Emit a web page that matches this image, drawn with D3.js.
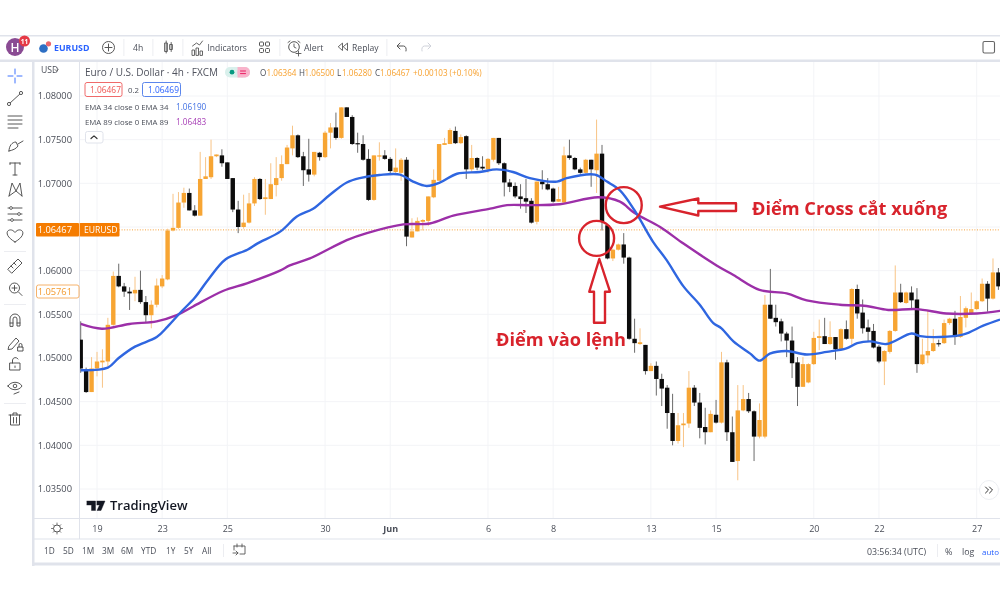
<!DOCTYPE html>
<html><head><meta charset="utf-8">
<script src="https://cdnjs.cloudflare.com/ajax/libs/d3/7.8.5/d3.min.js"></script>
<style>html,body{margin:0;padding:0;background:#fff;overflow:hidden}svg{display:block;filter:blur(.45px)}text{font-family:"Open Sans","Noto Sans",sans-serif}</style>
</head><body><svg id="c" width="1000" height="600"></svg>
<script>
const opens=[1.0521,1.0487,1.0461,1.0488,1.0495,1.0496,1.0538,1.0594,1.0582,1.0576,
1.0574,1.0578,1.0564,1.0549,1.0561,1.0582,1.0590,1.0646,1.0649,1.0678,
1.0689,1.0669,1.0663,1.0705,1.0707,1.0731,1.0732,1.0724,1.0706,1.0670,
1.0650,1.0655,1.0677,1.0705,1.0682,1.0682,1.0698,1.0706,1.0722,1.0740,
1.0755,1.0731,1.0716,1.0710,1.0735,1.0730,1.0758,1.0764,1.0752,1.0787,
1.0776,1.0746,1.0745,1.0728,1.0681,1.0731,1.0732,1.0728,1.0713,1.0712,
1.0727,1.0638,1.0645,1.0656,1.0657,1.0684,1.0703,1.0744,1.0745,1.0760,
1.0746,1.0754,1.0716,1.0729,1.0719,1.0716,1.0727,1.0752,1.0723,1.0701,
1.0697,1.0685,1.0683,1.0680,1.0656,1.0702,1.0699,1.0694,1.0679,1.0678,
1.0732,1.0729,1.0716,1.0712,1.0727,1.0715,1.0734,1.0652,1.0614,1.0624,
1.0630,1.0615,1.0522,1.0516,1.0515,1.0485,1.0491,1.0476,1.0466,1.0437,
1.0405,1.0423,1.0425,1.0466,1.0449,1.0421,1.0415,1.0435,1.0426,1.0495,
1.0415,1.0382,1.0440,1.0453,1.0439,1.0410,1.0410,1.0561,1.0546,1.0542,
1.0528,1.0520,1.0495,1.0467,1.0472,1.0493,1.0523,1.0525,1.0516,1.0524,
1.0510,1.0533,1.0522,1.0579,1.0552,1.0535,1.0531,1.0513,1.0496,1.0507,
1.0531,1.0575,1.0563,1.0575,1.0567,1.0493,1.0503,1.0508,1.0517,1.0517,
1.0540,1.0545,1.0524,1.0546,1.0551,1.0556,1.0565,1.0585,1.0568,1.0598];
const highs=[1.0542,1.0489,1.0501,1.0507,1.0510,1.0546,1.0599,1.0608,1.0586,1.0581,
1.0593,1.0600,1.0571,1.0566,1.0591,1.0595,1.0648,1.0688,1.0690,1.0695,
1.0694,1.0675,1.0736,1.0730,1.0750,1.0733,1.0739,1.0724,1.0706,1.0680,
1.0687,1.0689,1.0707,1.0706,1.0705,1.0723,1.0730,1.0732,1.0744,1.0766,
1.0756,1.0736,1.0751,1.0736,1.0736,1.0760,1.0769,1.0781,1.0787,1.0787,
1.0778,1.0758,1.0755,1.0739,1.0732,1.0747,1.0738,1.0730,1.0740,1.0729,
1.0730,1.0660,1.0661,1.0659,1.0685,1.0716,1.0745,1.0752,1.0763,1.0765,
1.0756,1.0755,1.0744,1.0730,1.0731,1.0729,1.0752,1.0752,1.0724,1.0705,
1.0701,1.0699,1.0705,1.0683,1.0702,1.0715,1.0706,1.0695,1.0696,1.0742,
1.0750,1.0730,1.0718,1.0728,1.0727,1.0773,1.0744,1.0652,1.0625,1.0631,
1.0643,1.0616,1.0545,1.0534,1.0515,1.0494,1.0496,1.0482,1.0469,1.0459,
1.0437,1.0437,1.0485,1.0469,1.0460,1.0443,1.0440,1.0452,1.0507,1.0498,
1.0433,1.0469,1.0469,1.0460,1.0440,1.0448,1.0572,1.0602,1.0561,1.0545,
1.0530,1.0536,1.0501,1.0501,1.0494,1.0530,1.0544,1.0546,1.0542,1.0524,
1.0534,1.0543,1.0580,1.0584,1.0567,1.0544,1.0539,1.0515,1.0509,1.0532,
1.0606,1.0585,1.0576,1.0582,1.0580,1.0522,1.0554,1.0533,1.0521,1.0544,
1.0546,1.0554,1.0571,1.0559,1.0575,1.0566,1.0591,1.0588,1.0614,1.0603];
const lows=[1.0483,1.0460,1.0461,1.0479,1.0466,1.0490,1.0537,1.0581,1.0570,1.0555,
1.0565,1.0562,1.0540,1.0534,1.0558,1.0580,1.0589,1.0645,1.0648,1.0672,
1.0669,1.0662,1.0663,1.0705,1.0705,1.0730,1.0719,1.0705,1.0667,1.0643,
1.0648,1.0654,1.0674,1.0681,1.0664,1.0682,1.0685,1.0703,1.0722,1.0732,
1.0729,1.0697,1.0702,1.0708,1.0726,1.0729,1.0740,1.0750,1.0751,1.0776,
1.0744,1.0735,1.0726,1.0680,1.0680,1.0726,1.0727,1.0710,1.0710,1.0703,
1.0628,1.0638,1.0645,1.0646,1.0651,1.0683,1.0703,1.0744,1.0745,1.0745,
1.0745,1.0705,1.0713,1.0715,1.0715,1.0712,1.0725,1.0721,1.0685,1.0690,
1.0683,1.0671,1.0666,1.0654,1.0653,1.0693,1.0692,1.0678,1.0679,1.0677,
1.0727,1.0715,1.0711,1.0711,1.0696,1.0689,1.0646,1.0613,1.0611,1.0623,
1.0608,1.0521,1.0506,1.0515,1.0481,1.0485,1.0457,1.0445,1.0419,1.0400,
1.0402,1.0398,1.0420,1.0445,1.0408,1.0401,1.0415,1.0425,1.0425,1.0405,
1.0381,1.0360,1.0439,1.0437,1.0382,1.0408,1.0408,1.0545,1.0536,1.0519,
1.0501,1.0477,1.0445,1.0467,1.0471,1.0492,1.0509,1.0516,1.0515,1.0498,
1.0509,1.0521,1.0515,1.0545,1.0528,1.0519,1.0511,1.0494,1.0469,1.0505,
1.0530,1.0563,1.0562,1.0556,1.0483,1.0492,1.0494,1.0507,1.0513,1.0516,
1.0538,1.0515,1.0523,1.0535,1.0550,1.0555,1.0564,1.0553,1.0567,1.0578];
const closes=[1.0488,1.0461,1.0488,1.0496,1.0497,1.0538,1.0594,1.0582,1.0576,1.0574,
1.0578,1.0564,1.0549,1.0561,1.0583,1.0591,1.0646,1.0649,1.0678,1.0689,
1.0669,1.0663,1.0705,1.0708,1.0731,1.0733,1.0723,1.0705,1.0670,1.0650,
1.0655,1.0677,1.0705,1.0682,1.0684,1.0699,1.0706,1.0722,1.0741,1.0755,
1.0730,1.0715,1.0710,1.0736,1.0730,1.0758,1.0764,1.0752,1.0787,1.0776,
1.0745,1.0745,1.0727,1.0681,1.0732,1.0732,1.0728,1.0714,1.0718,1.0727,
1.0639,1.0645,1.0657,1.0658,1.0685,1.0704,1.0745,1.0746,1.0761,1.0746,
1.0753,1.0716,1.0729,1.0718,1.0717,1.0728,1.0752,1.0723,1.0701,1.0696,
1.0685,1.0682,1.0679,1.0655,1.0702,1.0699,1.0693,1.0679,1.0682,1.0732,
1.0729,1.0716,1.0712,1.0727,1.0716,1.0734,1.0656,1.0614,1.0624,1.0630,
1.0615,1.0522,1.0517,1.0518,1.0485,1.0491,1.0476,1.0465,1.0437,1.0405,
1.0423,1.0425,1.0466,1.0449,1.0420,1.0415,1.0436,1.0426,1.0495,1.0415,
1.0381,1.0440,1.0453,1.0439,1.0410,1.0429,1.0561,1.0545,1.0541,1.0528,
1.0520,1.0494,1.0467,1.0493,1.0493,1.0523,1.0525,1.0516,1.0524,1.0510,
1.0533,1.0522,1.0579,1.0551,1.0534,1.0530,1.0512,1.0496,1.0508,1.0531,
1.0575,1.0564,1.0575,1.0566,1.0493,1.0504,1.0508,1.0517,1.0516,1.0540,
1.0545,1.0524,1.0547,1.0557,1.0556,1.0565,1.0585,1.0568,1.0598,1.0582];
const ema34Bars=[1,6,8,11,15,17,19.5,22,24.4,27.7,31.7,33.5,37.8,40.8,43.8,46.9,50,52.4,56,59.8,62.2,64.7,67.2,70.3,74.5,77.6,80.6,83.7,88.7,90.5,95.7,97.9,100.3,103,106.4,108.9,112,115,117.5,119,121.2,124.3,126,127.9,131,134.7,138.4,142,144,146.4,149.4,154,155.6,159.2,163.6,167.2,170.3];
const ema34Vals=[1.0486,1.0489,1.0500,1.0513,1.0524,1.0536,1.0553,1.0569,1.0589,1.0613,1.0624,1.0631,1.0645,1.0662,1.0671,1.0687,1.0701,1.0706,1.07095,1.0710,1.0702,1.0697,1.0701,1.0711,1.0713,1.0716,1.0713,1.0706,1.0702,1.0706,1.0710,1.0702,1.0692,1.0669,1.0633,1.0612,1.0582,1.0561,1.0540,1.0534,1.0519,1.0505,1.0497,1.0505,1.0508,1.0504,1.0507,1.0511,1.0517,1.0519,1.0516,1.0528,1.0525,1.0524,1.0527,1.0537,1.0544];
const ema89Bars=[1,4.9,10,15,18.7,21.7,27.3,31.6,37.7,39.5,43.2,50,53.7,60.4,65.3,69.6,76.4,79.5,83.7,89.2,96.3,100.3,103,107.7,112,118.1,121.2,126,131,134.7,140.8,145.7,149.7,154.9,160.4,166,170.3];
const ema89Vals=[1.0539,1.05335,1.0539,1.0542,1.0549,1.0559,1.0577,1.05855,1.0600,1.0606,1.0614,1.0635,1.0643,1.0653,1.0654,1.0663,1.0671,1.0675,1.0675,1.0676,1.0684,1.0679,1.0666,1.0650,1.0631,1.0606,1.0595,1.0578,1.0574,1.0566,1.0561,1.05595,1.0555,1.0556,1.0551,1.0551,1.0554];
const priceTicks=[1.08,1.075,1.07,1.06,1.055,1.05,1.045,1.04,1.035];
const gridPrices=[1.08,1.075,1.07,1.065,1.06,1.055,1.05,1.045,1.04,1.035];
const timeBars=[4,16,28,46,58,76,88,106,118,136,148,166];
const timeLabels=["19","23","25","30","Jun","6","8","13","15","20","22","27"];
const lastPrice=1.06467, countdownPrice=1.05761;
const rangeLabels=["1D","5D","1M","3M","6M","YTD","1Y","5Y","All"];

const svg=d3.select("#c");
const x=d3.scaleLinear().domain([4,166]).range([97,976.7]);
const y=d3.scaleLinear().domain([1.08,1.035]).range([96,489]);
const UP="#f7a533",UPW="#f8c486",DN="#0c0c0c",DNW="#6a6a6a",RED="#d8232c",LINE="#e0e3eb",TXT="#4a4e58";
function T(t,px,py,o={}){return svg.append("text").attr("x",px).attr("y",py).attr("font-size",o.s||9).attr("fill",o.c||TXT).attr("font-weight",o.w||400).attr("text-anchor",o.a||"start").text(t);}
function R(a,b,w,h,f,o={}){return svg.append("rect").attr("x",a).attr("y",b).attr("width",w).attr("height",h).attr("fill",f).attr("stroke",o.st||"none").attr("stroke-width",o.sw||1).attr("rx",o.r||0);}
function P(d,o={}){return svg.append("path").attr("d",d).attr("fill",o.f||"none").attr("stroke",o.c||"#555").attr("stroke-width",o.w||1).attr("stroke-linejoin","round").attr("stroke-linecap","round");}

// clip
svg.append("clipPath").attr("id","pane").append("rect").attr("x",79.5).attr("y",62).attr("width",921).attr("height",456);

// grid
const gridG=svg.append("g");
gridG.selectAll("line.h").data(gridPrices).join("line").attr("x1",79.5).attr("x2",1000).attr("y1",d=>y(d)).attr("y2",d=>y(d)).attr("stroke","#f3f4f7");
gridG.selectAll("line.v").data(timeBars).join("line").attr("x1",d=>x(d)).attr("x2",d=>x(d)).attr("y1",62).attr("y2",518).attr("stroke","#f3f4f7");

// last price dotted line
svg.append("line").attr("x1",119).attr("x2",1000).attr("y1",y(lastPrice)).attr("y2",y(lastPrice)).attr("stroke","#f6a23c").attr("stroke-dasharray","1 1.6");

// candles
const pane=svg.append("g").attr("clip-path","url(#pane)");
const bars=opens.map((o,i)=>({n:i+1,o,h:highs[i],l:lows[i],c:closes[i],up:closes[i]>=o}));
pane.selectAll("line.w").data(bars).join("line").attr("x1",d=>x(d.n)).attr("x2",d=>x(d.n)).attr("y1",d=>y(d.h)).attr("y2",d=>y(d.l)).attr("stroke",d=>d.up?UPW:DNW).attr("stroke-width",1);
pane.selectAll("rect.b").data(bars).join("rect").attr("x",d=>x(d.n)-2.2).attr("width",4.4).attr("y",d=>y(Math.max(d.o,d.c))).attr("height",d=>Math.max(1.2,Math.abs(y(d.o)-y(d.c)))).attr("fill",d=>d.up?UP:DN);

// EMAs
const ln=d3.line().x(d=>x(d[0])).y(d=>y(d[1])).curve(d3.curveCatmullRom);
pane.append("path").attr("d",ln(ema89Bars.map((b,i)=>[b,ema89Vals[i]]))).attr("fill","none").attr("stroke","#9c2fa8").attr("stroke-width",2.4);
pane.append("path").attr("d",ln(ema34Bars.map((b,i)=>[b,ema34Vals[i]]))).attr("fill","none").attr("stroke","#2f66e0").attr("stroke-width",2.4);

// frame
R(0,0,1000,35,"#fff");
R(0,519,1000,81,"#fff");
R(0,566,1000,34,"#fff");
R(34,35,45.5,484,"#fff");
R(0,35,33,531,"#fff");
R(0,35,1000,1.5,LINE);
R(0,59.5,1000,2.5,LINE);
R(32,60,2.5,506,LINE);
R(34,562.5,966,3,LINE);
R(34,518,966,1,LINE);
R(34,538.5,966,1,LINE);
R(79,62,1,477,LINE);

// price axis
const ay=svg.append("g").attr("transform","translate(72,0)").call(d3.axisLeft(y).tickValues(priceTicks).tickFormat(d3.format(".5f")).tickSize(0));
ay.select(".domain").remove();
ay.selectAll("text").attr("x",0).attr("font-size",9.3).attr("fill",TXT).attr("font-family",'"Open Sans"');
// time axis
const ax=svg.append("g").attr("transform","translate(0,522)").call(d3.axisBottom(x).tickValues(timeBars).tickFormat((d,i)=>timeLabels[i]).tickSize(0));
ax.select(".domain").remove();
ax.selectAll("text").attr("font-size",9).attr("fill",TXT).attr("font-family",'"Open Sans"').attr("dy",".75em").attr("font-weight",(d,i)=>timeLabels[i]==="Jun"?700:400);

// price labels
R(36,223,43,13.5,"#f57c00",{r:1});R(79.5,223,40,13.5,"#f57c00",{r:1});
svg.append("line").attr("x1",79.5).attr("x2",79.5).attr("y1",223).attr("y2",236.5).attr("stroke","#ffc58a");
T("1.06467",72,233.2,{c:"#fff",s:9.3,a:"end"});T("EURUSD",84,233.2,{c:"#fff",s:8.6});
R(36.5,285,42.5,13,"#fff",{st:"#f6b26b",r:2});T("1.05761",72,295,{c:"#f39a2e",s:9.3,a:"end"});

// legend
T("USD",41,73,{s:8.6});P("M55 69.5l1.7 1.7l1.7-1.7",{w:.8});
T("Euro / U.S. Dollar · 4h · FXCM",85,76,{s:10,c:"#50535e"});
R(225,67,25,10.5,"#d9f0ec",{r:5});R(237.5,67,12.5,10.5,"#f9b3cb",{r:5});R(237.5,67,5,10.5,"#f9b3cb");
svg.append("circle").attr("cx",232).attr("cy",72.2).attr("r",2.4).attr("fill","#089981");
P("M240.5 71h5M240.5 73.6h5",{c:"#e91e63",w:1});
const ohlc=[["O",260,"1.06364",266.5],["H",299,"1.06500",304.5],["L",337,"1.06280",342],["C",375,"1.06467",380]];
ohlc.forEach(o=>{T(o[0],o[1],75.5,{s:8.1});T(o[2],o[3],75.5,{s:8.1,c:"#f7a12f"});});
T("+0.00103 (+0.10%)",413,75.5,{s:8.1,c:"#f7a12f"});
R(85,82.5,37,14,"#fff",{st:"#ef6a6a",r:2});T("1.06467",90,92.8,{s:8.4,c:"#ef5350"});
T("0.2",128,92.8,{s:7.8});
R(142.5,82.5,38,14,"#fff",{st:"#5b86ec",r:2});T("1.06469",148,92.8,{s:8.4,c:"#2962ff"});
T("EMA 34 close 0 EMA 34",85,110,{s:7.8});T("1.06190",176,110,{s:8.2,c:"#3f6fe3"});
T("EMA 89 close 0 EMA 89",85,125,{s:7.8});T("1.06483",176,125,{s:8.2,c:"#a63cb5"});
R(85.5,131.5,17.5,11.5,"#fff",{st:"#e0e3eb",r:2});P("M91 138.5l3-2.6l3 2.6",{c:"#333",w:1.2});

// header
svg.append("circle").attr("cx",15).attr("cy",47).attr("r",9).attr("fill","#8a4b93");
T("H",15,51.5,{c:"#fff",s:12,a:"middle",w:600});
svg.append("circle").attr("cx",24.5).attr("cy",41).attr("r",5.5).attr("fill","#e53945");
T("11",24.5,43.5,{c:"#fff",s:6.5,a:"middle",w:700});
svg.append("circle").attr("cx",43.5).attr("cy",48.5).attr("r",4.3).attr("fill","#2d6fc4");
svg.append("circle").attr("cx",48.5).attr("cy",43.8).attr("r",2.6).attr("fill","#e9666b");
T("EURUSD",54,50.5,{c:"#2962ff",s:8.8,w:700});
svg.append("circle").attr("cx",108.5).attr("cy",47.5).attr("r",6).attr("fill","none").attr("stroke","#555");
P("M105 47.5h7M108.5 44v7");
T("4h",133,50.5,{s:8.6});
[123.5,152.5,182.5,279.5,386.5].forEach(v=>R(v,39,.8,17,"#e8e9ee"));
P("M165 43h2.4v8.5h-2.4zM170 44.5h2.4v5h-2.4zM166.2 41v12M171.2 42.5v9",{w:.9});
P("M192 55v-5h2.5v5zM196 55v-7h2.5v7zM200 55v-4h2.5v4zM192.5 46l4-3l3 2l3-4",{w:.9});
T("Indicators",207.5,50.5,{s:8.5});
R(259.5,42,4,4,"#fff",{st:"#555",r:1});R(265.5,42,4,4,"#fff",{st:"#555",r:1});R(259.5,48.5,4,4,"#fff",{st:"#555",r:1});R(265.5,48.5,4,4,"#fff",{st:"#555",r:1});
svg.append("circle").attr("cx",294).attr("cy",47).attr("r",5.3).attr("fill","none").attr("stroke","#555");
P("M294 44v3l2 1M288 42.5l2-1.5M300 42.5l-2-1.5M296 53.5h5M298.5 51v5",{w:.9});
T("Alert",304,50.5,{s:8.8});
P("M342.5 43.5v7l-4-3.5zM347.5 43.5v7l-4-3.5z",{w:.9});
T("Replay",352,50.5,{s:8.6});
P("M397.5 46h6c2.5 0 3 3 2.5 5M400 43l-3 3l3 3",{w:1});
P("M430.5 46h-6c-2.5 0-3 3-2.5 5M428 43l3 3l-3 3",{c:"#cfd2da",w:1});
R(983,41.5,11.5,11.5,"#fff",{st:"#666",sw:1.1,r:1.5});

// left toolbar
const g=(d,o)=>P(d,Object.assign({c:"#444",w:.9},o||{}));
g("M15 69v5M15 78v5M8 76h5M17 76h5",{c:"#2962ff"});
g("M9 104L21 93");[[9,104],[21,93]].forEach(a=>svg.append("circle").attr("cx",a[0]).attr("cy",a[1]).attr("r",1.6).attr("fill","#fff").attr("stroke","#444").attr("stroke-width",.9));
g("M8 116h14M8 120h14M8 124h14M8 128h10");
g("M9 151c0-5 3-9 7-9l2 4c-2 3-5 4-9 5zM18 144l5-3");
g("M10 163h10M15 163v12M13 175h4M10 163v1.5M20 163v1.5");
g("M9 196l3-13l4 8l4-8l2 13M9 196l7-5l6 5");
g("M8 208h14M8 214h14M8 220h14");["11,208","19,214","12,220"].forEach(s=>{const a=s.split(",");svg.append("circle").attr("cx",+a[0]).attr("cy",+a[1]).attr("r",1.4).attr("fill","#fff").attr("stroke","#444").attr("stroke-width",.8)});
g("M15 242c-12-7-8-13-3.5-12c2 .4 3 2 3.5 2.5c.5-.5 1.5-2.1 3.5-2.5c4.5-1 8.5 5-3.5 12z");
R(4,251,22,.8,"#e8e9ee");
g("M8 269l10-10l4 4l-10 10zM11 266l2 2M14 263l2 2");
svg.append("circle").attr("cx",14.5).attr("cy",288).attr("r",5).attr("fill","none").attr("stroke","#444").attr("stroke-width",.9);
g("M12 288h5M14.5 285.5v5M18.5 292l3.5 3.5");
R(4,304,22,.8,"#e8e9ee");
g("M10 326v-7a5 5 0 0 1 10 0v7h-3v-7a2 2 0 0 0-4 0v7zM10 323h3M17 323h3");
g("M9 346l7-8l3 3l-7 8l-3.5 .5zM18 347h5v4h-5zM19 347v-2a1.5 1.5 0 0 1 3 0v2");
g("M10 363h10v7h-10zM12.5 363v-3a3 3 0 0 1 5.5-1M15 366v1.5");
g("M8 386c3-5 11-5 14 0c-3 5-11 5-14 0z");svg.append("circle").attr("cx",15).attr("cy",386).attr("r",1.8).attr("fill","none").attr("stroke","#444").attr("stroke-width",.9);
g("M14 394l5-2");
R(4,403,22,.8,"#e8e9ee");
g("M9 415h12M13 415v-2h4v2M10.5 415v10h9v-10M13.5 417.5v5.5M16.5 417.5v5.5");

// tradingview logo
P("M87 501h8.5v9.5h-4v-5.5h-4.5zM97 501h8l-4 9.5h-4l2.5-5.5h-2.5z",{f:"#131722",c:"#131722",w:.4});
T("TradingView",110,510,{s:13,c:"#131722",w:600});
// scroll button
svg.append("circle").attr("cx",989).attr("cy",490).attr("r",9.5).attr("fill","#fff").attr("stroke","#eceef2");
P("M985.5 487l3 3l-3 3M989.5 487l3 3l-3 3",{c:"#333",w:1});

// bottom bar
svg.append("circle").attr("cx",57).attr("cy",528.5).attr("r",3.5).attr("fill","none").attr("stroke","#555");
P("M57 523v1.5M57 532.5v1.5M51.5 528.5h1.5M61 528.5h1.5M53.2 524.7l1 1M59.8 531.3l1 1M60.8 524.7l-1 1M54.2 531.3l-1 1",{w:.8});
const rx=[44,63,82,102,121,141,166,184,202];
rangeLabels.forEach((l,i)=>T(l,rx[i],554,{s:8.3}));
R(223,544,.8,13,"#e8e9ee");
P("M234 546h11v8h-5M234 546v4M237 544v3M242 544v3M233 553h5M236 551l2 2l-2 2",{w:.9});
T("03:56:34 (UTC)",867,554.5,{s:8.8});
R(937,544,.8,13,"#e8e9ee");
T("%",945,554.5,{s:9});T("log",962,554.5,{s:8.8});T("auto",982,554.5,{s:8,c:"#2962ff"});

// annotations (anchored on the data scales)
const ann=svg.append("g");
ann.append("circle").attr("cx",x(101)).attr("cy",y(1.0675)).attr("r",18).attr("fill","none").attr("stroke",RED).attr("stroke-width",2.4);
ann.append("circle").attr("cx",x(96)).attr("cy",y(1.0637)).attr("r",17.5).attr("fill","none").attr("stroke",RED).attr("stroke-width",2.4);
P("M660 206.7L698.3 198.5V203.3H736V211H698.3V215.5Z",{f:"#fff",c:RED,w:2.4});
P("M599.3 259L610 291.7H605V322.7H594V291.7H589.3Z",{f:"#fff",c:RED,w:2.4});
T("Điểm Cross cắt xuống",752,215,{s:18.2,c:RED,w:700});
T("Điểm vào lệnh",496,346,{s:18.2,c:RED,w:700});
</script></body></html>
